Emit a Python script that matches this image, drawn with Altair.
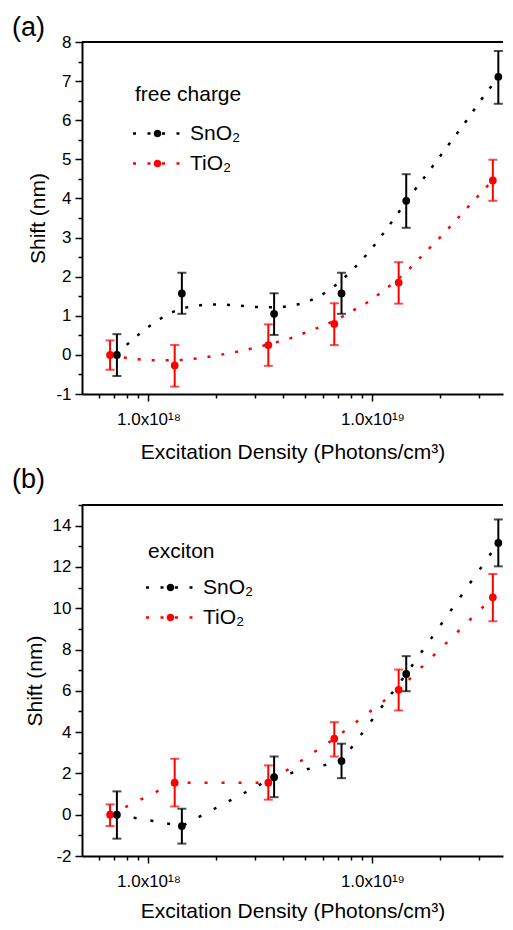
import altair as alt
import pandas as pd

FONT = "Liberation Sans"
SN = "SnO₂"
TI = "TiO₂"

# ---------------- data ----------------
sn_x = [7.23e17, 1.41e18, 3.64e18, 7.28e18, 1.416e19, 3.65e19]
ti_x = [6.74e17, 1.31e18, 3.43e18, 6.76e18, 1.31e19, 3.45e19]

# (a) free charge
a_sn_y = [0.0, 1.57, 1.05, 1.57, 3.94, 7.11]
a_sn_lo = [-0.54, 1.05, 0.51, 1.05, 3.25, 6.42]
a_sn_hi = [0.53, 2.10, 1.575, 2.10, 4.62, 7.77]
a_ti_y = [0.0, -0.27, 0.25, 0.79, 1.85, 4.46]
a_ti_lo = [-0.38, -0.81, -0.28, 0.25, 1.31, 3.94]
a_ti_hi = [0.37, 0.255, 0.78, 1.32, 2.37, 4.99]

# (a) dotted fit curves, sampled along the drawn curves
a_sn_fit_x = [7.23e17, 7.65e17, 8.46e17, 9.51e17, 1.07e18, 1.20e18, 1.35e18,
              1.57e18, 1.80e18, 2.09e18, 2.39e18, 2.78e18, 3.23e18, 3.69e18,
              4.29e18, 4.99e18, 5.66e18, 6.48e18, 8.10e18, 9.80e18, 1.171e19,
              1.515e19, 1.808e19, 2.154e19, 2.555e19, 3.04e19, 3.65e19]
a_sn_fit_y = [0.0, 0.15, 0.38, 0.62, 0.835, 1.01, 1.15,
              1.24, 1.28, 1.29, 1.27, 1.24, 1.22, 1.22,
              1.25, 1.34, 1.47, 1.68, 2.16, 2.68, 3.26,
              4.15, 4.73, 5.32, 5.89, 6.5, 7.1]
a_ti_fit_x = [6.74e17, 7.91e17, 9.20e17, 1.07e18, 1.42e18, 1.64e18, 1.89e18,
              2.18e18, 2.51e18, 2.92e18, 3.28e18, 3.81e18, 4.43e18, 5.07e18,
              5.80e18, 7.58e18, 8.52e18, 9.74e18, 1.095e19, 1.384e19, 1.702e19,
              2.090e19, 2.544e19, 3.11e19, 3.45e19]
a_ti_fit_y = [0.0, -0.075, -0.12, -0.14, -0.13, -0.09, -0.04,
              0.02, 0.085, 0.17, 0.24, 0.34, 0.45, 0.58,
              0.71, 1.02, 1.19, 1.38, 1.6, 2.07, 2.59,
              3.11, 3.65, 4.19, 4.47]

# (b) exciton
b_sn_y = [0.0, -0.55, 1.82, 2.6, 6.82, 13.16]
b_sn_lo = [-1.16, -1.40, 0.85, 1.77, 5.98, 12.03]
b_sn_hi = [1.13, 0.29, 2.82, 3.44, 7.68, 14.3]
b_ti_y = [0.0, 1.55, 1.55, 3.68, 6.05, 10.53]
b_ti_lo = [-0.55, 0.40, 0.73, 2.82, 5.05, 9.37]
b_ti_hi = [0.50, 2.71, 2.39, 4.48, 7.03, 11.66]

# axes
x_domain = [5.05e17, 3.83e19]
x_ticks = [6e17, 7e17, 8e17, 9e17, 1e18, 2e18, 3e18, 4e18, 5e18, 6e18, 7e18,
           8e18, 9e18, 1e19, 2e19, 3e19]
x_major_labels = {1e18: "1.0x10¹⁸", 1e19: "1.0x10¹⁹"}
a_y_domain = [-1, 8]
a_y_ticks = [v / 2 for v in range(-2, 17)]
b_y_domain = [-2, 15]
b_y_ticks = list(range(-2, 16))

X_TITLE = "Excitation Density (Photons/cm³)"
Y_TITLE = "Shift (nm)"

LEGEND_PATH = ("M-24.5,-1.2h3v2.4h-3Z M-10,-1.2h3v2.4h-3Z M4.5,-1.2h3v2.4h-3Z "
               "M19,-1.2h3v2.4h-3Z M-3.8,0a3.8,3.8 0 1,0 7.6,0a3.8,3.8 0 1,0 -7.6,0Z")

W = 421


def pts_frame(sy, slo, shi, ty, tlo, thi):
    rows = []
    for i in range(len(ti_x)):
        rows.append({"x": ti_x[i], "y": ty[i], "lo": tlo[i], "hi": thi[i], "series": TI})
    for i in range(len(sn_x)):
        rows.append({"x": sn_x[i], "y": sy[i], "lo": slo[i], "hi": shi[i], "series": SN})
    return pd.DataFrame(rows)


def line_frame(sxs, sys_, txs, tys):
    rows = []
    for i, (x, y) in enumerate(zip(txs, tys)):
        rows.append({"x": x, "y": y, "series": TI, "idx": i})
    for i, (x, y) in enumerate(zip(sxs, sys_)):
        rows.append({"x": x, "y": y, "series": SN, "idx": i})
    return pd.DataFrame(rows)


label_expr = " : ".join(
    [f"datum.value == {k:.0e} ? '{v}'" for k, v in x_major_labels.items()]) + " : ''"
major_test = " || ".join([f"datum.value == {k:.0e}" for k in x_major_labels])


def panel(pts, lines, interp, dash, ydom, yticks, ymod, tag, toff, leg_title, lx, ly,
          ltp, xtp, h):
    xs = alt.Scale(type="log", domain=x_domain, nice=False)
    ys = alt.Scale(domain=ydom, nice=False, zero=False)
    cs = alt.Scale(domain=[SN, TI], range=["#000000", "#ff0000"])
    xa = alt.Axis(values=x_ticks, labelExpr=label_expr, title=X_TITLE,
                  tickSize={"condition": {"test": major_test, "value": 7}, "value": 4},
                  labelFontSize=17, titleFontSize=21, labelPadding=10, titlePadding=xtp,
                  labelOverlap=False, labelFlush=False)
    ya = alt.Axis(values=yticks, title=Y_TITLE,
                  labelExpr=f"datum.value % {ymod} == 0 ? toString(datum.value) : ''",
                  tickSize={"condition": {"test": f"datum.value % {ymod} == 0", "value": 7},
                            "value": 4},
                  labelFontSize=17, titleFontSize=21, labelPadding=4, titlePadding=7,
                  labelOverlap=False)
    X = alt.X("x:Q", scale=xs, axis=xa)
    C = alt.Color("series:N", scale=cs, legend=alt.Legend(
        title=leg_title, orient="none", legendX=lx, legendY=ly,
        titleFontSize=21, titleFontWeight="normal", titleFont=FONT,
        titleColor="black", labelFontSize=21, labelFont=FONT, labelColor="black",
        symbolType=LEGEND_PATH, symbolSize=4, symbolStrokeWidth=0, symbolOpacity=1,
        symbolOffset=12, labelOffset=22, rowPadding=8, titlePadding=ltp,
        padding=0))

    frame_top = alt.Chart(pts).mark_rule(color="black", strokeWidth=2).encode(
        x=alt.value(0), x2=alt.value(W), y=alt.value(0))
    line = alt.Chart(lines).mark_line(strokeDash=dash, strokeWidth=2.5,
                                      interpolate=interp).encode(
        x=X, y=alt.Y("y:Q", scale=ys, axis=ya), color=C, order="idx:Q")
    bars = alt.Chart(pts).mark_rule(strokeWidth=2).encode(
        x=X, y=alt.Y("lo:Q", scale=ys, axis=ya), y2="hi:Q", color=C)
    cap_lo = alt.Chart(pts).mark_tick(orient="horizontal", size=9, thickness=2).encode(
        x=X, y=alt.Y("lo:Q", scale=ys, axis=ya), color=C)
    cap_hi = alt.Chart(pts).mark_tick(orient="horizontal", size=9, thickness=2).encode(
        x=X, y=alt.Y("hi:Q", scale=ys, axis=ya), color=C)
    dots = alt.Chart(pts).mark_point(filled=True, size=60, opacity=1).encode(
        x=X, y=alt.Y("y:Q", scale=ys, axis=ya), color=C)
    return alt.layer(frame_top, line, bars, cap_lo, cap_hi, dots).properties(
        width=W, height=h,
        title=alt.TitleParams(tag, anchor="start", frame="group", dx=-70, offset=toff,
                              fontSize=27, fontWeight="normal", font=FONT, color="black"))


top = panel(pts_frame(a_sn_y, a_sn_lo, a_sn_hi, a_ti_y, a_ti_lo, a_ti_hi),
            line_frame(a_sn_fit_x, a_sn_fit_y, a_ti_fit_x, a_ti_fit_y),
            "monotone", [3, 11], a_y_domain, a_y_ticks, 1, "(a)", -9, "free charge",
            53, 42, 18, 14, 352)
bottom = panel(pts_frame(b_sn_y, b_sn_lo, b_sn_hi, b_ti_y, b_ti_lo, b_ti_hi),
               line_frame(sn_x, b_sn_y, ti_x, b_ti_y),
               "linear", [3, 14], b_y_domain, b_y_ticks, 2, "(b)", 2, "exciton",
               66, 36, 15, 11, 351)

chart = alt.vconcat(top, bottom, spacing=4).resolve_scale(
    color="independent", y="independent").resolve_legend(color="independent").properties(
    padding={"left": 4, "top": 6, "right": 0, "bottom": 0}
).configure_view(stroke=None).configure_axis(
    domainColor="black", domainWidth=2, tickColor="black", tickWidth=1.5,
    labelFont=FONT, titleFont=FONT, labelColor="black", titleColor="black",
    grid=False, titleFontWeight="normal")

chart.save("out.html", embed_options={"renderer": "svg", "actions": False})
